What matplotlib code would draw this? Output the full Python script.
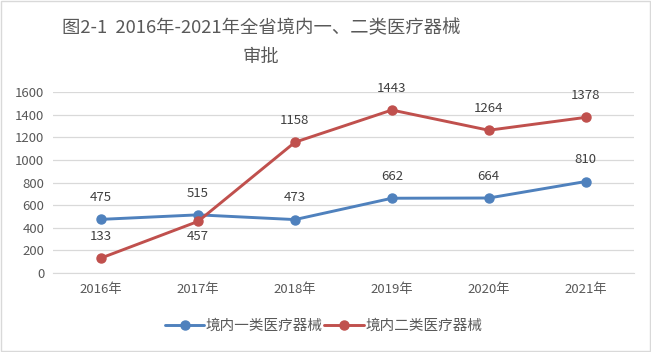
import matplotlib
matplotlib.use("Agg")
import matplotlib.pyplot as plt
from matplotlib.patches import Rectangle

plt.rcParams['font.family'] = ['Noto Sans CJK SC', 'DejaVu Sans']

# ---------------------------------------------------------------------------
# Data
# ---------------------------------------------------------------------------
years = ["2016年", "2017年", "2018年", "2019年", "2020年", "2021年"]
class1 = [475, 515, 473, 662, 664, 810]
class2 = [133, 457, 1158, 1443, 1264, 1378]
class2_label_below = [False, True, False, False, False, False]

TITLE = "图2-1  2016年-2021年全省境内一、二类医疗器械\n审批"
BLUE = "#4F81BD"
RED = "#C0504D"
TEXT = "#595959"

fig = plt.figure(figsize=(6.51, 3.52), dpi=100)
ax = fig.add_axes([0.081, 0.2244, 0.893, 0.5134])

x = list(range(len(years)))
ax.plot(x, class1, color=BLUE, lw=2.1, marker="o", ms=6.5, label="境内一类医疗器械",
        solid_capstyle="round", zorder=3)
ax.plot(x, class2, color=RED, lw=2.1, marker="o", ms=6.5, label="境内二类医疗器械",
        solid_capstyle="round", zorder=3)

for i, v in enumerate(class1):
    ax.annotate(str(v), (i, v), xytext=(0, 11), textcoords="offset points",
                ha="center", va="bottom", fontsize=9.5, color="#404040")
for i, v in enumerate(class2):
    dy = -6 if class2_label_below[i] else 11
    ax.annotate(str(v), (i, v), xytext=(0, dy), textcoords="offset points",
                ha="center", va="top" if dy < 0 else "bottom",
                fontsize=9.5, color="#404040")

ax.set_xlim(-0.5, len(years) - 0.5)
ax.set_ylim(0, 1600)
ax.set_yticks(range(0, 1601, 200))
ax.set_xticks(x)
ax.set_xticklabels(years)
ax.tick_params(axis="both", length=0, labelsize=9.5, colors=TEXT)
ax.tick_params(axis="x", pad=7)
ax.tick_params(axis="y", pad=6)
ax.grid(axis="y", color="#D9D9D9", lw=0.9)
ax.set_axisbelow(True)
for s in ["top", "right", "left"]:
    ax.spines[s].set_visible(False)
ax.spines["bottom"].set_color("#D9D9D9")

fig.text(0.401, 0.944, TITLE, ha="center", va="top", fontsize=13.2,
         color=TEXT, linespacing=1.75)

fig.legend(loc="center", bbox_to_anchor=(0.497, 0.074), ncol=2, frameon=False,
           fontsize=10.5, labelcolor=TEXT, handlelength=2.7, handletextpad=0.1,
           columnspacing=0.1)

fig.patches.append(Rectangle((0.002, 0.003), 0.996, 0.994, transform=fig.transFigure,
                             fill=False, edgecolor="#D9D9D9", lw=1))

fig.savefig("out.png", dpi=100)
